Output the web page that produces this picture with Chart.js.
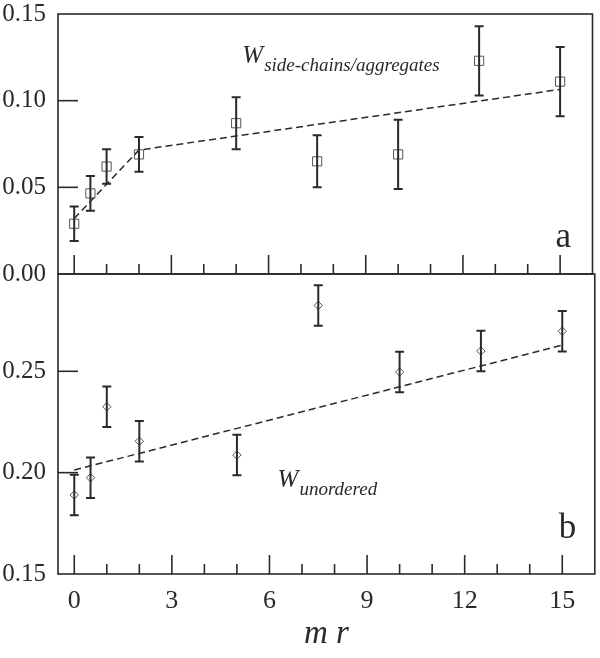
<!DOCTYPE html>
<html>
<head>
<meta charset="utf-8">
<script src="https://cdn.jsdelivr.net/npm/chart.js@4/dist/chart.umd.min.js"></script>
<style>
  body { margin: 0; background: #fff; }
  #wrap { position: relative; width: 600px; height: 658px; }
  canvas { position: absolute; left: 0; }
</style>
</head>
<body>
<div id="wrap">
  <canvas id="chartA" width="600" height="300" style="top:0"></canvas>
  <canvas id="chartB" width="600" height="398" style="top:260px"></canvas>
</div>
<script>
// x values (m r) shared by both panels
const mr = [0, 0.5, 1, 2, 5, 7.5, 10, 12.5, 15];

// panel a: W side-chains/aggregates
const wSide = [0.029, 0.0465, 0.062, 0.069, 0.087, 0.065, 0.069, 0.123, 0.111];
const wSideErr = [0.010, 0.010, 0.010, 0.010, 0.015, 0.015, 0.020, 0.020, 0.020];
const fitSideX = [0, 2, 15];
const fitSideY = [0.032, 0.0715, 0.1065];

// panel b: W unordered
const wUnord = [0.189, 0.1975, 0.2325, 0.2155, 0.2087, 0.2825, 0.2497, 0.260, 0.2698];
const wUnordErr = [0.010, 0.010, 0.010, 0.010, 0.010, 0.010, 0.010, 0.010, 0.010];
const fitUnordX = [0, 15];
const fitUnordY = [0.2013, 0.2629];

// axes
const xTicks = [0, 3, 6, 9, 12, 15];
const yTicksA = [0, 0.05, 0.10, 0.15];
const yTicksB = [0.15, 0.20, 0.25];

const serif = "'Liberation Serif', 'Times New Roman', serif";
const ink = "#2a2a2a";

const toXY = (xs, ys) => xs.map((x, i) => ({ x: x, y: ys[i] }));

// error bars, frame, inward ticks and panel labels
const decor = {
  id: "decor",
  afterDatasetsDraw(chart, args, opts) {
    const ctx = chart.ctx;
    const a = chart.chartArea;
    const xs = chart.scales.x;
    const ys = chart.scales.y;
    ctx.save();
    ctx.strokeStyle = ink;

    // error bars
    ctx.lineWidth = 2;
    opts.values.forEach((v, i) => {
      const px = xs.getPixelForValue(mr[i]);
      const top = ys.getPixelForValue(v + opts.errs[i]);
      const bot = ys.getPixelForValue(v - opts.errs[i]);
      ctx.beginPath();
      ctx.moveTo(px, top); ctx.lineTo(px, bot);
      ctx.moveTo(px - 4.5, top); ctx.lineTo(px + 4.5, top);
      ctx.moveTo(px - 4.5, bot); ctx.lineTo(px + 4.5, bot);
      ctx.stroke();
    });

    // frame
    ctx.lineWidth = 1.6;
    ctx.strokeRect(a.left, a.top, a.right - a.left, a.bottom - a.top);

    // inward ticks on bottom edge
    for (let t = 0; t <= 15; t++) {
      const px = xs.getPixelForValue(t);
      const len = t % 3 === 0 ? 19 : 10;
      ctx.beginPath();
      ctx.moveTo(px, a.bottom); ctx.lineTo(px, a.bottom - len);
      ctx.stroke();
    }
    // inward ticks on left edge
    opts.leftTicks.forEach(v => {
      const py = ys.getPixelForValue(v);
      ctx.beginPath();
      ctx.moveTo(a.left, py); ctx.lineTo(a.left + 20, py);
      ctx.stroke();
    });

    // labels
    ctx.fillStyle = ink;
    ctx.textBaseline = "alphabetic";
    ctx.textAlign = "left";
    const wx = xs.getPixelForValue(opts.wPos[0]);
    const wy = ys.getPixelForValue(opts.wPos[1]);
    ctx.font = "italic 25px " + serif;
    ctx.fillText("W", wx, wy);
    const ww = ctx.measureText("W").width;
    ctx.font = "italic 19px " + serif;
    ctx.fillText(opts.sub, wx + ww + 1, wy + 8);

    ctx.font = "35px " + serif;
    ctx.fillText(opts.letter, xs.getPixelForValue(opts.letterPos[0]), ys.getPixelForValue(opts.letterPos[1]));
    ctx.restore();
  }
};

function makeDatasets(values, fx, fy, style, radius) {
  return [
    {
      data: toXY(mr, values),
      showLine: false,
      pointStyle: style,
      pointRadius: radius,
      pointBackgroundColor: "rgba(0,0,0,0)",
      pointBorderColor: "#555",
      pointBorderWidth: 1
    },
    {
      data: toXY(fx, fy),
      showLine: true,
      borderColor: ink,
      borderWidth: 1.5,
      borderDash: [7, 4],
      pointRadius: 0,
      fill: false
    }
  ];
}

function yScale(min, max, ticks) {
  return {
    min: min,
    max: max,
    grid: { display: false, drawTicks: false },
    border: { display: false },
    afterBuildTicks: s => { s.ticks = ticks.map(v => ({ value: v })); },
    afterFit: s => { s.width = 58; s.paddingTop = 0; s.paddingBottom = 0; },
    ticks: {
      padding: 12,
      color: ink,
      font: { family: serif, size: 25 },
      callback: v => v.toFixed(2)
    }
  };
}

new Chart(document.getElementById("chartA"), {
  type: "scatter",
  data: { datasets: makeDatasets(wSide, fitSideX, fitSideY, "rect", 6.5) },
  options: {
    responsive: false,
    animation: false,
    layout: { padding: { top: 14, right: 2, bottom: 26, left: 0 } },
    plugins: {
      legend: { display: false },
      tooltip: { enabled: false },
      decor: {
        values: wSide, errs: wSideErr, leftTicks: [0.05, 0.10],
        sub: "side-chains/aggregates", wPos: [5.19, 0.1217],
        letter: "a", letterPos: [14.86, 0.0158]
      }
    },
    scales: {
      x: { type: "linear", min: -0.5, max: 16, display: false },
      y: yScale(0, 0.15, yTicksA)
    }
  },
  plugins: [decor]
});

new Chart(document.getElementById("chartB"), {
  type: "scatter",
  data: { datasets: makeDatasets(wUnord, fitUnordX, fitUnordY, "rectRot", 4.2) },
  options: {
    responsive: false,
    animation: false,
    layout: { padding: { top: 14, right: 2, bottom: 0, left: 0 } },
    plugins: {
      legend: { display: false },
      tooltip: { enabled: false },
      decor: {
        values: wUnord, errs: wUnordErr, leftTicks: [0.20, 0.25],
        sub: "unordered", wPos: [6.25, 0.193],
        letter: "b", letterPos: [14.89, 0.1677]
      }
    },
    scales: {
      x: {
        type: "linear",
        min: -0.5,
        max: 16,
        grid: { display: false, drawTicks: false },
        border: { display: false },
        afterBuildTicks: s => { s.ticks = xTicks.map(v => ({ value: v })); },
        afterFit: s => { s.height = 84; s.paddingLeft = 0; s.paddingRight = 0; },
        ticks: {
          padding: 12,
          color: ink,
          maxRotation: 0,
          font: { family: serif, size: 26 }
        },
        title: {
          display: true,
          text: "m r",
          color: ink,
          padding: { top: 0, bottom: 4 },
          font: { family: serif, size: 33, style: "italic" }
        }
      },
      y: yScale(0.15, 0.298, yTicksB)
    }
  },
  plugins: [decor]
});
</script>
</body>
</html>
